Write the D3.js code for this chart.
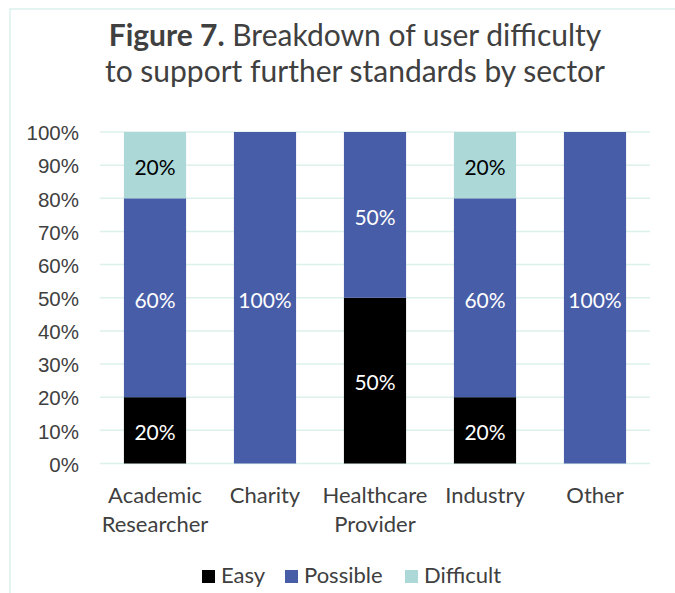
<!DOCTYPE html>
<html>
<head>
<meta charset="utf-8">
<script src="https://cdn.jsdelivr.net/npm/d3@7"></script>
<style>
  body { margin: 0; background: #fff; }
  svg { display: block; font-family: Lato, "Open Sans", sans-serif; }
  .grid line { stroke: #dcf1ec; stroke-width: 1.5; }
  .axis text { fill: #404040; }
</style>
</head>
<body>
<svg id="chart" width="675" height="593"></svg>
<script>
// Data
const categories = [ ['Academic', 'Researcher'], ['Charity'], ['Healthcare', 'Provider'], ['Industry'], ['Other'] ];
const easy = [ 0.2, 0, 0.5, 0.2, 0 ];
const possible = [ 0.6, 1.0, 0.5, 0.6, 1.0 ];
const difficult = [ 0.2, 0, 0, 0.2, 0 ];
const seriesNames = [ 'Easy', 'Possible', 'Difficult' ];
const yTicks = [ 0, 0.1, 0.2, 0.3, 0.4, 0.5, 0.6, 0.7, 0.8, 0.9, 1.0 ];

const colors = { Easy: '#000000', Possible: '#485da8', Difficult: '#acd9d7' };
const labelColors = { Easy: '#ffffff', Possible: '#ffffff', Difficult: '#000000' };

const svg = d3.select('#chart');

// Frame
svg.append('rect')
    .attr('x', 10).attr('y', 9)
    .attr('width', 700).attr('height', 620)
    .attr('fill', 'none').attr('stroke', '#dcf1ec').attr('stroke-width', 1.5);

// Title
const title = svg.append('text')
    .attr('text-anchor', 'middle')
    .attr('fill', '#404040')
    .style('font-size', '30px');
const t1 = title.append('tspan').attr('x', 355).attr('y', 46);
t1.append('tspan').attr('font-weight', 'bold').text('Figure 7.');
t1.append('tspan').text(' Breakdown of user difficulty');
title.append('tspan').attr('x', 355).attr('y', 82).text('to support further standards by sector');

// Scales
const xScale = d3.scaleBand()
    .domain(d3.range(categories.length))
    .range([ 100, 650 ])
    .paddingInner(0.435)
    .paddingOuter(0.2175);
const yScale = d3.scaleLinear().domain([ 0, 1 ]).range([ 463.5, 132 ]);

// Gridlines
svg.append('g').attr('class', 'grid')
    .selectAll('line').data(yTicks)
    .enter().append('line')
        .attr('x1', 100).attr('x2', 650)
        .attr('y1', d => yScale(d)).attr('y2', d => yScale(d));

// Y axis
const yAxis = d3.axisLeft(yScale).tickValues(yTicks)
    .tickFormat(d3.format('.0%')).tickSize(0).tickPadding(0);
svg.append('g').attr('class', 'axis')
    .attr('transform', 'translate(79,0)')
    .call(yAxis)
    .call(g => g.select('.domain').remove())
    .selectAll('text').style('font-size', '20.5px').attr('dy', '0.38em');

// Stack
const rows = categories.map((c, i) => ({ i, Easy: easy[i], Possible: possible[i], Difficult: difficult[i] }));
const stacked = d3.stack().keys(seriesNames)(rows);

const layers = svg.append('g').selectAll('g.layer').data(stacked)
    .enter().append('g').attr('class', 'layer');

layers.selectAll('rect').data(d => d.filter(p => p[1] - p[0] > 0))
    .enter().append('rect')
        .attr('x', d => xScale(d.data.i))
        .attr('width', xScale.bandwidth())
        .attr('y', d => yScale(d[1]))
        .attr('height', d => yScale(d[0]) - yScale(d[1]))
        .attr('fill', function() { return colors[d3.select(this.parentNode).datum().key]; });

// Data labels
layers.each(function(layer) {
    d3.select(this).selectAll('text.val').data(layer.filter(p => p[1] - p[0] > 0))
        .enter().append('text')
            .attr('class', 'val')
            .attr('x', d => xScale(d.data.i) + xScale.bandwidth() / 2)
            .attr('y', d => yScale((d[0] + d[1]) / 2))
            .attr('dy', '0.47em')
            .attr('text-anchor', 'middle')
            .attr('fill', labelColors[layer.key])
            .style('font-size', '21px')
            .text(d => d3.format('.0%')(d[1] - d[0]));
});

// X axis labels
const xl = svg.append('g').attr('class', 'axis');
categories.forEach((lines, i) => {
    const t = xl.append('text')
        .attr('text-anchor', 'middle')
        .style('font-size', '22px');
    lines.forEach((s, k) => {
        t.append('tspan')
            .attr('x', xScale(i) + xScale.bandwidth() / 2)
            .attr('y', 503 + k * 29)
            .text(s);
    });
});

// Legend
const legendX = [ 202, 285, 405 ];
const legend = svg.append('g').selectAll('g').data(seriesNames)
    .enter().append('g')
        .attr('transform', (d, i) => 'translate(' + legendX[i] + ',570)');
legend.append('rect')
    .attr('width', 13).attr('height', 13)
    .attr('fill', d => colors[d]);
legend.append('text')
    .attr('x', 19).attr('y', 13)
    .attr('fill', '#404040')
    .style('font-size', '22px')
    .text(d => d);
</script>
</body>
</html>
